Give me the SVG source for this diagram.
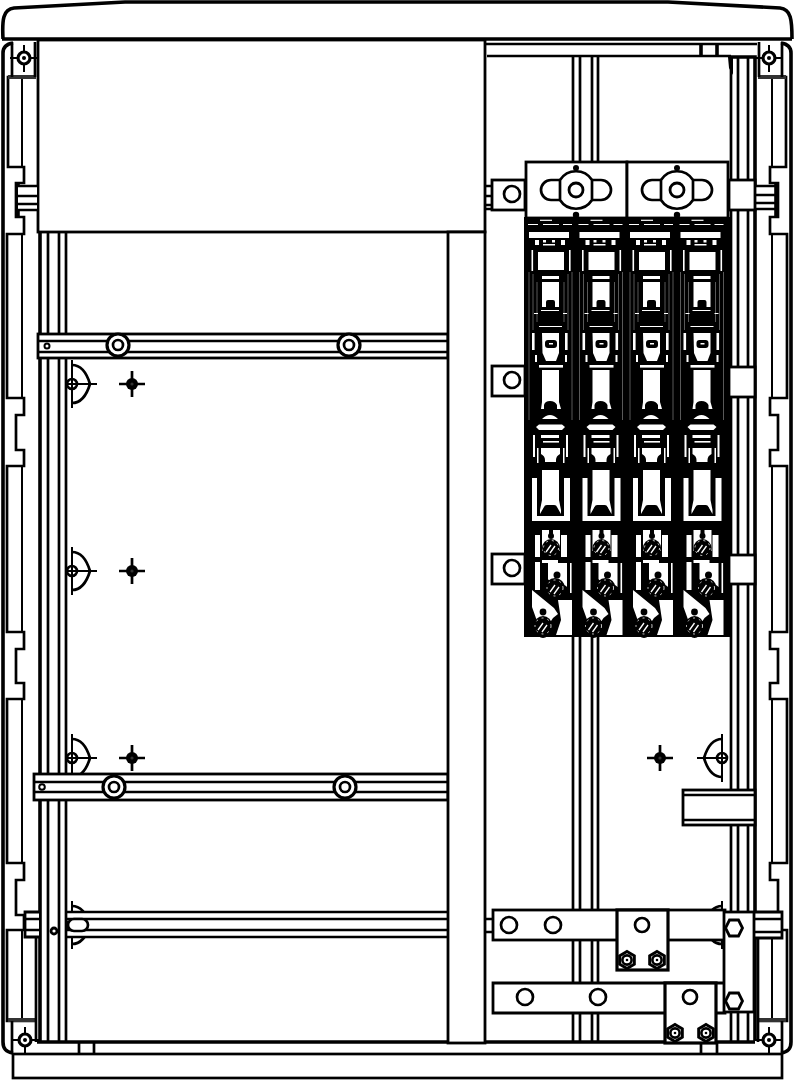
<svg xmlns="http://www.w3.org/2000/svg" width="794" height="1080" viewBox="0 0 794 1080">
<style>
.l{fill:none;stroke:#000;stroke-width:2.7;stroke-linejoin:miter}
.t{fill:none;stroke:#000;stroke-width:2}
.h{fill:none;stroke:#000;stroke-width:3.6}
.w{fill:#fff;stroke:#000;stroke-width:2.8}
.b{fill:#fff;stroke:#000;stroke-width:3.2}
.k{fill:#000;stroke:none}
.f{fill:#fff;stroke:none}
.s{fill:none;stroke:#fff;stroke-width:1.3}
.d{fill:none;stroke:#fff;stroke-width:.8;stroke-dasharray:2 4}
.v{fill:none;stroke:#fff;stroke-width:.7;opacity:.5}
</style>
<defs>
<clipPath id="cr"><rect x="0" y="0" width="730" height="1080"/></clipPath>
<g id="screw"><path class="t" d="M-14 0H14M0-13V14"/><circle r="6" fill="#fff" stroke="#000" stroke-width="3.2"/><circle r="2" class="k"/></g>
<g id="cross"><path class="l" d="M-13 0H13M0-13V13"/><circle r="6" class="k"/><circle r="1.6" fill="#333"/></g>
<g id="target"><path class="t" d="M0-24V24M-6 0H25"/><circle r="5" fill="#fff" stroke="#000" stroke-width="2.6"/><path class="t" d="M-4 0H4M0-4V4"/><path class="l" d="M0-19C10-19 15-10 18 0C15 10 10 19 0 19"/></g>
<g id="nut"><path d="M0-8.5L7.3-4.2V4.2L0 8.5L-7.3 4.2V-4.2Z" fill="#fff" stroke="#000" stroke-width="3"/><circle r="4.6" fill="#fff" stroke="#000" stroke-width="2.6"/><circle r="1.3" class="k"/></g>
<g id="hex"><path d="M-4.500-8H4.500L8.500 0L4.500 8H-4.500L-8.500 0Z" fill="#fff" stroke="#000" stroke-width="2.8"/></g>
<g id="wing"><circle cy="-22" r="3" class="k"/><circle cy="25" r="3.2" class="k"/><path class="l" d="M-16-10H-25A10 10 0 0 0-25 10H-16M16-10H25A10 10 0 0 1 25 10H16"/><path class="l" d="M-16-10A19 19 0 0 1 16-10V10A19 19 0 0 1-16 10Z"/><circle r="7" class="w" stroke-width="3"/></g>
<g id="wall">
<path class="h" d="M13 43C6 44 3 47 3 53V1042C3 1049 6 1052 13 1053"/>
<path class="l" d="M36 77H8V167H24V183H16V217H24V234H7V398H24V415H16V450H24V466H7V632H24V649H16V683H24V699H7V863H24V880H16V915H24V930H7V1021H37"/>
<path class="t" d="M22 77V167M22 234V398M22 466V632M22 699V863M22 930V1021"/>
<path d="M8 77H36M8 1020H37" fill="none" stroke="#333" stroke-width="4"/>
<path class="l" d="M12 42V77M35 42V77M12 1021V1053M36 930V1042"/>
</g>
<g id="fuse">
<rect class="f" x="540" y="219.5" width="12" height="1.4"/>
<path class="f" d="M528 224h10v.9h-10zM543 224h16v.9h-16zM563 224h9v.9h-9z"/>
<rect class="f" x="529" y="232" width="40" height="6"/>
<path class="f" d="M535 240h4v5h-4zM543 240h3v2.5h-3zM552 240h3v2.5h-3zM561 240h4v5h-4zM543 244h12v1.6h-12z"/>
<rect class="f" x="538" y="252" width="26" height="18"/>
<path class="f" d="M531.5 250h1.6v21h-1.6zM569 250h1.6v21h-1.6z"/>
<rect class="f" x="542" y="276" width="17" height="3"/>
<path class="f" d="M542 282H559V307H555V302Q555 300 553 300H548Q546 300 546 302V307H542Z"/>
<path class="v" d="M529 272V420M533 274V330M537 282V322M564 282V322M568 274V330M572 272V420"/>
<path class="f" d="M534 313h4v1h-4zM541 310h18v1h-18zM563 313h4v1h-4zM539 326h23v1h-23z"/>
<path class="f" d="M542 333H559V353L556 361H546L542.5 353Z"/>
<rect class="k" x="545" y="340" width="12" height="8" rx="3"/>
<rect class="f" x="549" y="343" width="4" height="1.5"/>
<path class="f" d="M532 333h2.600v17h-2.600zM565 333h2.600v17h-2.600zM535 355h2v7h-2zM565 355h2v7h-2z"/>
<rect class="f" x="539" y="365" width="24" height="2.6"/>
<path class="f" d="M542 370H559V402L561 409H557V405Q555 401 550 401Q545 401 544 405V409H541L542 402Z"/>
<path class="f" d="M542 419Q550 411 558 419Z"/>
<path class="f" d="M536 427L539 424.5H562L565 427L562 430H539Z"/>
<rect class="f" x="541" y="435" width="18" height="3"/>
<path class="f" d="M533 435h2v22h-2zM566 435h2v22h-2zM537 448h1.5v15h-1.5zM563 448h1.5v15h-1.5z"/>
<rect class="f" x="543" y="441" width="16" height="1.6"/>
<path class="f" d="M541 448H560V454Q556 456 556 460V462H545V460Q545 456 541 454Z"/>
<path class="f" d="M542 470H559V500L561 510V514L557 507H544L540 514V510L542 500Z"/>
<rect class="k" x="544" y="505" width="13" height="9" rx="3"/>
<path class="f" d="M532 478H537V516H564V478H570V521H532Z"/>
<path class="f" d="M542 530H560V551H542ZM535 535H540V557H535ZM561 535H567V557H561Z"/>
<path class="k" d="M549 529H553V536H549Z"/><circle cx="551" cy="536" r="3" class="k"/><circle cx="551" cy="548" r="9" class="k"/>
<circle cx="551" cy="548" r="7.5" class="d"/>
<path class="s" d="M546 552L551 545M550 553L555 546"/>
<path class="f" d="M535 562H540V590H535ZM542 560H558V563H542ZM548 563H567V587H548ZM570 563h1.600v30h-1.600z"/>
<circle cx="557" cy="575" r="3.5" class="k"/><circle cx="555" cy="588" r="10" class="k"/><circle cx="546" cy="584" r="5" class="k"/><circle cx="563" cy="590" r="5" class="k"/>
<circle cx="555" cy="588" r="8" class="d"/>
<path class="s" d="M550 592L555 585M554 594L559 587"/>
<path class="f" d="M532 590L554 608L558 614L553 618L551 621H537L532 607Z"/>
<path class="f" d="M558 600H572V635H556L561 620Z"/>
<circle cx="543" cy="612" r="3.4" class="k"/><circle cx="543" cy="625" r="9" class="k"/><circle cx="534" cy="628" r="5" class="k"/><circle cx="552" cy="627" r="5" class="k"/><circle cx="543" cy="632" r="6" class="k"/>
<circle cx="543" cy="626" r="8" class="d"/>
<path class="s" d="M538 630L543 623M542 632L547 625"/>
</g>
</defs>
<rect width="794" height="1080" fill="#fff"/>
<g id="cabinet-shell">
<use href="#wall"/>
<use href="#wall" transform="matrix(-1 0 0 1 794 0)"/>
<path class="h" d="M3 39C2 20 3 9 14 8L125 2H668L780 8C791 9 792 20 792 39"/>
<path class="h" d="M2 39H792"/>
<rect class="l" x="13" y="1054" width="769" height="24"/>
<path class="l" d="M79 1042V1054M94 1042V1054M701 1042V1054M717 1042V1054"/>
</g>
<g id="targets">
<use href="#target" x="72" y="384"/><use href="#cross" x="132" y="384"/>
<use href="#target" x="72" y="571"/><use href="#cross" x="132" y="571"/>
<use href="#target" x="72" y="758"/><use href="#cross" x="132" y="758"/>
<use href="#target" x="72" y="925"/>
<use href="#cross" x="660" y="758"/>
<g clip-path="url(#cr)">
<use href="#target" transform="translate(722 758) scale(-1 1)"/>
<use href="#target" transform="translate(722 925) scale(-1 1)"/>
</g>
</g>
<g id="frame-right">
<path class="l" d="M485 44H757M487 56H731"/>
<path class="h" d="M701 44V56M717 44V56"/>
<path class="h" d="M731 57H755V1041"/>
<path class="l" d="M731 57V1041M738 57V1041M748 57V1041"/>
<path class="k" d="M728 57H733V75L729 68Z"/>
<path class="l" d="M573 57V1041M580 57V1041M592 57V1041M598 57V1041"/>
</g>
<g id="frame-left">
<path class="h" d="M40 232V1041"/>
<path class="l" d="M48 232V1041M59 232V1041M66 232V1041"/>
<path class="h" d="M37 1042H755"/>
</g>
<g id="rail-3">
<path d="M68 913H447V936H68Z" fill="#fff"/>
<path class="l" d="M66 912H448M66 919H448M66 930H448M66 937H448"/>
<rect x="68" y="919" width="20" height="12" rx="6" class="l" style="fill:#fff"/>
<path class="w" d="M39 912H25V937H39"/>
<path class="l" d="M25 919H39M25 930H39"/>
<circle cx="54" cy="931" r="3" class="w"/>
</g>
<g id="rail-1">
<rect class="w" x="38" y="334" width="410" height="24"/>
<path class="l" d="M38 341H448M38 352H448"/>
<circle cx="47" cy="346" r="2.5" class="t"/>
<circle cx="118" cy="345" r="11" class="b"/><circle cx="118" cy="345" r="5" class="l"/>
<circle cx="349" cy="345" r="11" class="b"/><circle cx="349" cy="345" r="5" class="l"/>
</g>
<g id="rail-2">
<rect class="w" x="34" y="774" width="414" height="26"/>
<path class="l" d="M34 782H448M34 792H448"/>
<circle cx="42" cy="787" r="2.8" class="t"/>
<circle cx="114" cy="787" r="11" class="b"/><circle cx="114" cy="787" r="5" class="l"/>
<circle cx="345" cy="787" r="11" class="b"/><circle cx="345" cy="787" r="5" class="l"/>
</g>
<g id="cover-panel"><rect class="w" x="38" y="40" width="447" height="192"/></g>
<g id="centre-post"><rect class="w" x="448" y="232" width="37" height="811"/></g>
<g id="din-bracket">
<rect class="w" x="683" y="790" width="72" height="35"/>
<path class="l" d="M683 795H755M683 820H755"/>
</g>
<g id="fuse-stubs">
<path class="l" d="M486 186H492M486 196H492M486 205H492M486 209H492"/>
<path d="M755 186H775V209H755Z" fill="#fff"/>
<path class="l" d="M755 186H775M755 195H775M755 203H775M755 209H775"/>
<path class="h" d="M776 183V217M18 183V217"/>
<path d="M18 186H37V210H18Z" fill="#fff"/>
<path class="l" d="M18 186H37M18 196H37M18 204H37M18 210H37"/>
<rect class="w" x="729" y="180" width="26" height="30"/>
<rect class="w" x="729" y="367" width="26" height="30"/>
<rect class="w" x="729" y="555" width="26" height="29"/>
<rect class="w" x="492" y="180" width="33" height="30"/><circle cx="512" cy="194" r="8" class="l"/>
<rect class="w" x="492" y="366" width="33" height="30"/><circle cx="512" cy="380" r="8" class="l"/>
<rect class="w" x="492" y="554" width="33" height="30"/><circle cx="512" cy="568" r="8" class="l"/>
</g>
<g id="fuse-block">
<rect class="k" x="524" y="217" width="206" height="420"/>
<use href="#fuse"/>
<use href="#fuse" x="50.5"/>
<use href="#fuse" x="101"/>
<use href="#fuse" x="151.5"/>
<rect class="w" x="526" y="162" width="101" height="56"/>
<rect class="w" x="627" y="162" width="101" height="56"/>
<use href="#wing" x="576" y="190"/>
<use href="#wing" x="677" y="190"/>
</g>
<g id="busbar-1">
<rect class="w" x="493" y="910" width="232" height="30"/>
<path class="l" d="M485 919H493M485 932H493"/>
<circle cx="509" cy="925" r="8" class="l"/><circle cx="553" cy="925" r="8" class="l"/>
<rect class="b" x="617" y="910" width="51" height="60"/>
<circle cx="642" cy="925" r="7" class="l"/>
<use href="#nut" x="627" y="960"/><use href="#nut" x="657" y="960"/>
</g>
<g id="busbar-2">
<path class="w" d="M493 983H725V1013H493Z"/>
<circle cx="525" cy="997" r="8" class="l"/><circle cx="598" cy="997" r="8" class="l"/>
<rect class="b" x="665" y="983" width="51" height="60"/>
<circle cx="690" cy="997" r="7" class="l"/>
<use href="#nut" x="675" y="1033"/><use href="#nut" x="706" y="1033"/>
</g>
<g id="riser">
<path class="w" d="M755 912H782V938H755"/>
<path class="l" d="M755 919H782M755 932H782"/>
<rect class="w" x="724" y="912" width="30" height="100"/>
<use href="#hex" x="734" y="928"/>
<use href="#hex" x="734" y="1001"/>
</g>
<g id="corner-screws">
<use href="#screw" x="24" y="58"/><use href="#screw" x="769" y="58"/>
<use href="#screw" x="25" y="1040"/><use href="#screw" x="769" y="1040"/>
</g>
</svg>
